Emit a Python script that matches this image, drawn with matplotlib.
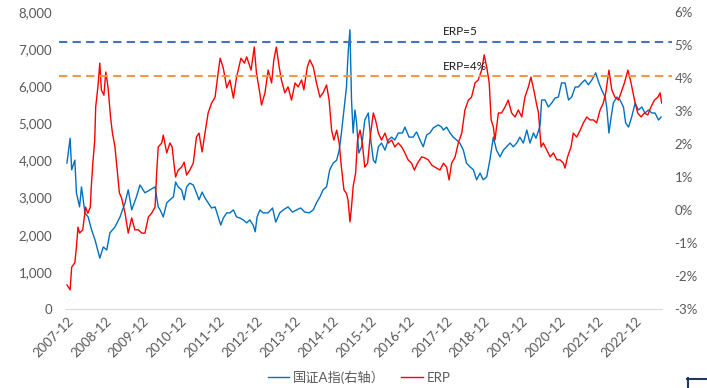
import matplotlib
matplotlib.use("Agg")
import matplotlib.pyplot as plt
from matplotlib.lines import Line2D

plt.rcParams['font.family'] = ['Lato', 'Noto Sans CJK SC', 'DejaVu Sans']

# x = months counted from 2007-12
idx_month = [0, 1, 1.5, 2.5, 3, 4, 4.6, 5.7, 6.7, 7.8, 8.9, 10.4, 11.5, 12.6, 13.6, 15.2, 16.8,
             18.4, 19.4, 20.5, 22, 23.1, 24.7, 26.3, 27.9, 28.9,
             29.5, 30.5, 31.6, 32.6, 33.7, 34.4, 35.2, 36.3, 37.1, 37.9, 38.9, 40, 41, 41.8,
             42.8, 43.7, 44.7, 45.8, 46.9, 47.9, 48.7, 49.5, 50.6, 51.6, 52.7, 53.7, 54.8,
             55.8, 56.9, 57.9, 59, 59.6,
             60.2, 61.1, 62.1, 63.7, 65.1, 66.1, 67.4, 68.5, 70, 71.4, 72.7, 74, 75.3, 76.7,
             78, 79, 80.1, 81.1, 82.2, 83.2, 84.3, 85.4, 86.2, 86.9, 87.7, 88.5, 88.8, 89.1, 89.6,
             90.1, 90.6, 91.2, 91.7, 92.4, 93.3, 94.3, 95.4, 96.2, 97, 97.7, 98.6, 99.6, 100.7,
             101.7, 102.8, 103.8, 104.9, 106.2, 107, 108.3, 109.6, 110.7, 111.8, 112.8, 113.9,
             114.9, 116, 117.6,
             118.6, 119.2, 120.2, 121.3, 122.3, 123.4, 124.4, 125.5, 126.5, 127.6, 128.7, 129.7,
             130.8, 131.8, 132.9, 133.9, 135, 136, 137.1, 138.2, 139.2, 140.3, 141.3, 142.4,
             143.4, 144.5, 145.6, 146.6, 147.7, 148.5, 149.3, 149.8,
             150.3, 151.4, 152.4, 153.5, 154.5, 155.6, 156.6, 157.7, 158.8, 159.8, 160.9, 161.9,
             163, 164, 165.1, 166.2, 167.4, 168.3, 169.3, 170.4, 170.9, 171.6, 172.3, 173, 174.1,
             175.1, 176.2, 176.9, 177.8, 178.8, 179.9, 180.9, 182, 183, 184.1, 185.2, 186.2,
             187.3, 188.1]
idx_value = [3930, 4600, 3750, 4010, 3130, 2750, 3290, 2590, 2480, 2130, 1860, 1370, 1670, 1590, 2050, 2210, 2480,
             2860, 3210, 2670, 3020, 3340, 3130, 3210, 3290, 2750,
             2670, 2480, 2860, 2940, 3020, 3420, 3290, 3210, 2940, 3290, 3390, 3340, 3130, 2940,
             3150, 2990, 2860, 2720, 2750, 2480, 2260, 2450, 2590, 2590, 2670, 2480, 2450,
             2400, 2320, 2400, 2250, 2080,
             2480, 2670, 2590, 2590, 2720, 2340, 2590, 2670, 2750, 2610, 2670, 2720, 2610, 2590,
             2670, 2860, 3020, 3210, 3290, 3750, 3930, 4010, 4280, 4740, 5360, 5980, 6520, 6980, 7520,
             5630, 4740, 5360, 5010, 4200, 4370, 5090, 5280, 4550, 4010, 3930, 4370, 4470, 4280,
             4550, 4630, 4550, 4740, 4740, 4900, 4630, 4630, 4770, 4550, 4370, 4690,
             4740, 4880, 4960,
             4900, 4820, 4900, 4740, 4630, 4550, 4470, 4280, 3930, 3830, 3750, 3480,
             3660, 3480, 3560, 4010, 4630, 4280, 4100, 4280, 4370, 4470, 4370, 4470,
             4630, 4470, 4820, 4470, 4740, 4600, 4800, 4950,
             5630, 5630, 5440, 5550, 5680, 5710, 6090, 6090, 5630, 5710, 5980, 5980,
             6090, 6170, 6040, 6170, 6360, 6120, 5900, 5710, 5440, 4740, 5170, 5550, 5710,
             5630, 5440, 5010, 4900, 5170, 5550, 5360, 5440, 5280, 5360, 5280, 5280,
             5090, 5170]

erp_month = [0, 1, 1.5, 2.5, 3, 3.5, 4, 5, 5.9, 6.6, 7.4, 7.7, 8.2, 8.8, 9.1, 9.8, 10.4, 10.9, 11.7,
             12.3, 13, 13.8, 14.4, 15.2, 15.9, 16.6, 17.3, 18.4, 19.4, 20.5, 21.5, 22.6, 23.7,
             24.7, 25.8, 26.8, 27.9, 28.4, 28.9,
             30, 30.5, 31.6, 32.6, 33.3, 34, 34.4, 35.2, 36.3, 37.1, 37.9, 38.9, 40, 41, 41.8,
             42.8, 43.7, 44.7, 45.8, 46.9, 47.7, 48.5, 49.5, 50.6, 51.6, 52.7, 53.7, 55.1, 56.2,
             56.9, 58.3, 59.3,
             60, 60.9, 61.6, 62.7, 63.7, 64.8, 65.5, 66.3, 67.2, 67.9, 69, 70, 71.1, 72.2, 73.2,
             74.3, 75, 76.1, 76.9, 78, 79, 80.1, 81.1, 82.2, 83, 83.8, 84.5, 85.4, 86.2, 86.9, 87.7,
             88.5, 89, 89.6, 90.1, 90.6, 91.4, 92, 92.8, 93.5, 94.3, 95.2, 95.9, 97, 97.7, 98.6,
             99.6, 100.7, 101.7, 102.8, 103.8, 104.9, 106, 107, 108, 109.1, 110, 111, 112.3,
             113.3, 114.4, 115.5, 116.5, 118.1,
             119.2, 120.2, 121, 121.8, 122.9, 123.9, 125, 126, 127.1, 128.1, 129.2, 130.2, 131.3,
             132.1, 132.9, 133.7, 134.3, 135, 135.5, 136.6, 137.6, 138.7, 139.7, 140.8, 141.9,
             142.9, 144, 145, 146.1, 146.9, 148,
             148.7, 149.3, 150.1, 150.8, 151.9, 153, 154, 155.1, 156.1, 157.2, 157.7, 158.5,
             159.6, 160.3, 161.4, 162.5, 163.5, 164.6, 165.6, 166.7, 167.7, 168.8, 169.8, 170.6,
             171.6, 172.5, 173.5, 174.6, 175.4, 176.5, 177.6, 178.6, 179.7, 180.7, 181.8, 182.8,
             183.9, 184.9, 186, 187.1, 187.8, 188.3]
erp_value = [-2.27, -2.42, -1.73, -1.6, -1.12, -0.52, -0.7, -0.6, 0.09, -0.1, 0.09, 0.7, 1.42, 2.12, 3.12, 3.73, 4.45, 3.64, 3.48,
             4.18, 3.73, 2.82, 2.33, 1.91, 1.21, 0.52, 0.36, -0.1, -0.7, -0.24, -0.6, -0.6, -0.7,
             -0.7, -0.21, -0.1, 0.09, 1.12, 1.91,
             2.03, 2.27, 1.73, 2.03, 1.91, 1.3, 1.0, 1.21, 1.3, 1.45, 1.06, 1.21, 1.42, 2.21, 2.33,
             1.76, 2.33, 2.94, 3.24, 3.42, 4.03, 4.6, 4.3, 3.7, 3.94, 3.39, 4.03, 4.6, 4.45,
             4.64, 4.24, 4.94,
             4.15, 3.64, 3.18, 3.55, 4.24, 3.85, 4.55, 4.94, 4.33, 3.94, 3.55, 3.73, 3.33, 3.85, 3.73,
             3.94, 3.64, 4.33, 4.55, 4.33, 3.85, 3.42, 3.55, 3.79, 3.33, 2.42, 2.12, 2.42, 2.03, 1.3, 0.61,
             0.5, 0.3, -0.36, 0.09, 0.7, 1.12, 2.12, 2.42, 2.03, 1.3, 1.42, 2.12, 2.94, 2.73, 2.33,
             2.12, 2.33, 2.03, 2.12, 1.91, 2.03, 1.91, 1.73, 1.52, 1.42, 1.21, 1.42, 1.61,
             1.58, 1.52, 1.36, 1.3, 1.21,
             1.42, 1.3, 0.91, 1.42, 1.61, 2.03, 2.33, 3.03, 3.33, 3.42, 3.85, 3.94, 4.24,
             4.7, 4.33, 3.85, 2.73, 2.52, 2.12, 2.94, 2.94, 3.12, 3.33, 2.94, 2.82,
             3.03, 2.82, 3.42, 3.73, 4.03, 3.55,
             3.2, 2.94, 1.91, 2.03, 1.82, 1.61, 1.73, 1.52, 1.52, 1.42, 1.27, 1.61,
             1.91, 2.33, 2.21, 2.42, 2.64, 2.82, 2.73, 2.73, 2.64, 3.03, 3.24, 3.55,
             4.24, 3.64, 3.42, 3.33, 3.55, 3.85, 4.24, 3.85, 3.33, 2.94, 2.82, 2.94,
             2.88, 3.12, 3.33, 3.42, 3.55, 3.24]

tick_labels = ['2007-12', '2008-12', '2009-12', '2010-12', '2011-12', '2012-12', '2013-12', '2014-12',
               '2015-12', '2016-12', '2017-12', '2018-12', '2019-12', '2020-12', '2021-12', '2022-12']
ref_levels = [5.1, 4.05]
ref_labels = ['ERP=5', 'ERP=4%']
ref_colors = ['#4472C4', '#F79646']

gray = '#595959'

fig = plt.figure(figsize=(7.07, 3.88), dpi=100)
ax = fig.add_axes([66 / 707, 1 - 309 / 388, 596 / 707, 297 / 388])
ax2 = ax.twinx()

l1, = ax.plot(idx_month, idx_value, color='#0070C0', lw=1.0)
l2, = ax2.plot(erp_month, erp_value, color='#FF0000', lw=1.0)

for lev, lab, c in zip(ref_levels, ref_labels, ref_colors):
    ax2.axhline(lev, xmin=-0.012, xmax=1.017, color=c, lw=1.5, dashes=(4, 2.5), clip_on=False)
    ax2.text(119, lev + 0.3, lab, fontsize=8.5, color='#1a1a1a', ha='left', va='center')

ax.set_xlim(-0.3, 188.4)
ax.set_ylim(0, 8000)
ax.set_yticks(range(0, 8001, 1000))
ax.set_yticklabels([f'{v:,}' for v in range(0, 8001, 1000)])
ax2.set_ylim(-3, 6)
ax2.set_yticks(range(-3, 7))
ax2.set_yticklabels([f'{v}%' for v in range(-3, 7)])

ax.set_xticks([12 * i for i in range(len(tick_labels))])
ax.set_xticklabels(tick_labels, rotation=45, ha='right', rotation_mode='anchor')

for a in (ax, ax2):
    for s in a.spines.values():
        s.set_visible(False)
ax.spines['bottom'].set_visible(True)
ax.spines['bottom'].set_color('#d9d9d9')
ax.tick_params(axis='both', length=0, labelsize=9.5, colors=gray)
ax.tick_params(axis='y', pad=10)
ax.tick_params(axis='x', pad=4)
ax2.tick_params(axis='y', length=0, labelsize=9.5, colors=gray, pad=9)

fig.legend([l1, l2], ['国证A指(右轴）', 'ERP'], loc='center', bbox_to_anchor=(0.508, 1 - 377 / 388),
           ncol=2, frameon=False, fontsize=9.5, handlelength=1.65, handletextpad=0.3,
           columnspacing=1.2, labelcolor=gray)

# small frame corner in the bottom right
fig.add_artist(Line2D([687 / 707, 1.0], [1 - 378.5 / 388] * 2, color='#1F3A5A', lw=1.5))
fig.add_artist(Line2D([687.5 / 707] * 2, [1 - 378 / 388, 0], color='#1F3A5A', lw=1.5))

fig.savefig('out.png', dpi=100)
